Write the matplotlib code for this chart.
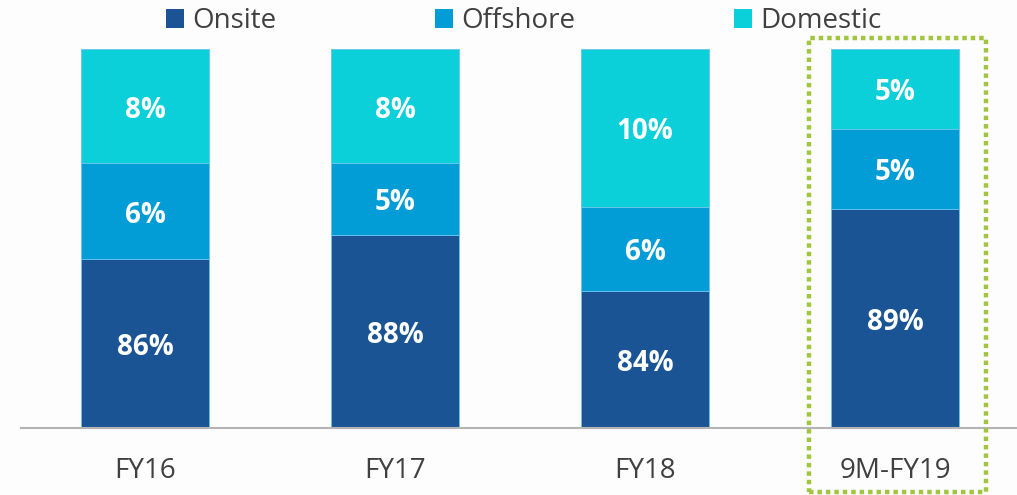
import matplotlib
matplotlib.use('Agg')
import matplotlib.pyplot as plt
from matplotlib.patches import Rectangle, Patch

plt.rcParams['font.family'] = ['Open Sans', 'DejaVu Sans']

# --- data ---
periods = ['FY16', 'FY17', 'FY18', '9M-FY19']
series = ['Onsite', 'Offshore', 'Domestic']
# segment heights as drawn on the slide (share of bar height)
onsite_height = [44.5, 51.0, 36.2, 57.9]
offshore_height = [25.5, 19.0, 22.2, 21.1]
domestic_height = [30.0, 30.0, 41.6, 21.0]
# printed labels
onsite_label = ['86%', '88%', '84%', '89%']
offshore_label = ['6%', '5%', '6%', '5%']
domestic_label = ['8%', '8%', '10%', '5%']

colors = ['#1b5494', '#029dd6', '#0bd0d9']
text_grey = '#404040'

W, H = 1017, 495
fig = plt.figure(figsize=(W / 100, H / 100), dpi=100)
fig.patch.set_facecolor('#fdfdfd')
ax = fig.add_axes([21 / W, (H - 428) / H, (W - 21) / W, 379 / H])
ax.set_facecolor('none')

x = list(range(len(periods)))
heights = [onsite_height, offshore_height, domestic_height]
labels = [onsite_label, offshore_label, domestic_label]
bottom = [0.0] * len(periods)
for name, h, lab, c in zip(series, heights, labels, colors):
    bars = ax.bar(x, h, width=0.512, bottom=bottom, color=c, label=name,
                  edgecolor='#6cc3ea', linewidth=0.6)
    ax.bar_label(bars, labels=lab, label_type='center', padding=-3, color='white',
                 fontsize=20, fontweight='bold')
    bottom = [b + v for b, v in zip(bottom, h)]

ax.set_xlim(-0.496, 3.488)
ax.set_ylim(0, 100)
ax.set_yticks([])
ax.set_xticks(x, periods)
ax.tick_params(axis='x', length=0, pad=21, labelsize=20, labelcolor=text_grey)
for s in ['top', 'left', 'right']:
    ax.spines[s].set_visible(False)
ax.spines['bottom'].set_color('#b4b4b4')
ax.spines['bottom'].set_linewidth(1.5)

# highlight box around the latest period
box = Rectangle((809 / W, 1 - 492 / H), 177 / W, (492 - 38) / H,
                transform=fig.transFigure, fill=False, edgecolor='#a2c540',
                linewidth=3.2, linestyle=(0, (1, 0.9)), capstyle='butt')
box.set_clip_on(False)
fig.add_artist(box)

handles = [Patch(facecolor=c, label=n) for n, c in zip(series, colors)]
fig.legend(handles=handles, loc='center left', bbox_to_anchor=(166 / W, 1 - 21 / H),
           ncol=3, frameon=False, fontsize=20, handlelength=0.65, handleheight=0.65,
           handletextpad=0.3, columnspacing=5.7, borderpad=0, borderaxespad=0,
           labelcolor=text_grey)

fig.savefig('out.png', dpi=100, facecolor=fig.get_facecolor())
